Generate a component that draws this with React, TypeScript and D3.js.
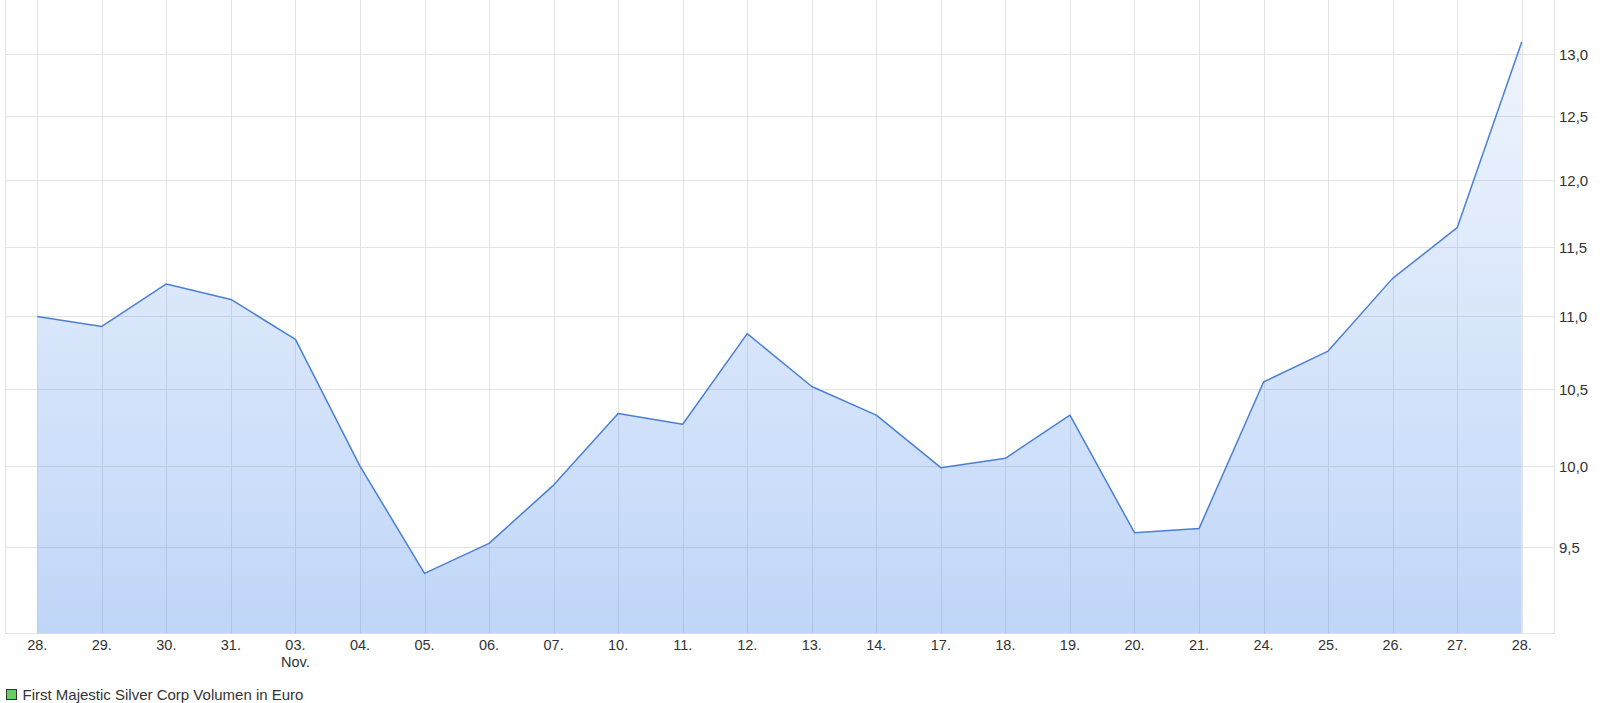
import React, { useEffect, useRef } from "react";
import * as d3 from "d3";

// day labels along the x axis (Oct 28 -> Nov 28)
const days = ["28.", "29.", "30.", "31.", "03.", "04.", "05.", "06.", "07.", "10.", "11.", "12.",
  "13.", "14.", "17.", "18.", "19.", "20.", "21.", "24.", "25.", "26.", "27.", "28."];
const monthLabels: { index: number; text: string }[] = [{ index: 4, text: "Nov." }];
const volume = [11.0, 10.93, 11.23, 11.12, 10.84, 10.0, 9.34, 9.52, 9.88, 10.34, 10.27, 10.88,
  10.52, 10.33, 9.99, 10.05, 10.33, 9.585, 9.61, 10.55, 10.76, 11.27, 11.64, 13.1];
const yTicks = [9.5, 10.0, 10.5, 11.0, 11.5, 12.0, 12.5, 13.0];
const yDomain = [8.99, 13.456];
const legendLabel = "First Majestic Silver Corp Volumen in Euro";

const App: React.FC = () => {
  const ref = useRef<SVGSVGElement | null>(null);

  useEffect(() => {
    const width = 1615;
    const height = 703;
    const left = 5;
    const right = 1554;
    const top = 0;
    const bottom = 633.3;
    const font = "'Liberation Sans', Arial, sans-serif";
    const gridColor = "#e3e3e3";

    const svg = d3.select(ref.current);
    svg.selectAll("*").remove();
    svg.attr("width", width).attr("height", height);

    const idx = days.map((_, i) => i);
    const x = d3.scalePoint<number>().domain(idx).range([left, right]).padding(0.5);
    const y = d3.scaleLog().domain(yDomain).range([bottom, top]);

    const defs = svg.append("defs");
    const grad = defs
      .append("linearGradient")
      .attr("id", "areaFill")
      .attr("x1", 0)
      .attr("y1", 0)
      .attr("x2", 0)
      .attr("y2", 1);
    grad.append("stop").attr("offset", "0%").attr("stop-color", "rgb(75,138,235)").attr("stop-opacity", 0.09);
    grad.append("stop").attr("offset", "100%").attr("stop-color", "rgb(75,138,235)").attr("stop-opacity", 0.35);

    // grid
    const grid = svg.append("g");
    grid
      .selectAll("line.h")
      .data(yTicks)
      .enter()
      .append("line")
      .attr("x1", left)
      .attr("x2", right)
      .attr("y1", (d) => Math.round(y(d)) + 0.5)
      .attr("y2", (d) => Math.round(y(d)) + 0.5)
      .attr("stroke", gridColor);
    grid
      .selectAll("line.v")
      .data(idx)
      .enter()
      .append("line")
      .attr("x1", (d) => Math.round(x(d)!) + 0.5)
      .attr("x2", (d) => Math.round(x(d)!) + 0.5)
      .attr("y1", top)
      .attr("y2", bottom)
      .attr("stroke", gridColor);
    // frame: left, right and bottom
    [left, right].forEach((px) => {
      grid.append("line")
        .attr("x1", px + 0.5).attr("x2", px + 0.5)
        .attr("y1", top).attr("y2", bottom)
        .attr("stroke", gridColor);
    });
    grid.append("line")
      .attr("x1", left).attr("x2", right + 1)
      .attr("y1", Math.round(bottom) + 0.5).attr("y2", Math.round(bottom) + 0.5)
      .attr("stroke", gridColor);

    const area = d3
      .area<number>()
      .x((_, i) => x(i)!)
      .y0(bottom)
      .y1((d) => y(d));
    const line = d3
      .line<number>()
      .x((_, i) => x(i)!)
      .y((d) => y(d));

    svg.append("path").datum(volume).attr("d", area).attr("fill", "url(#areaFill)");
    svg
      .append("path")
      .datum(volume)
      .attr("d", line)
      .attr("fill", "none")
      .attr("stroke", "#4a7fd6")
      .attr("stroke-width", 1.5)
      .attr("stroke-linejoin", "round");

    // x labels
    const xl = svg.append("g").attr("font-family", font).attr("font-size", 14.5).attr("fill", "#333");
    xl.selectAll("text.day")
      .data(idx)
      .enter()
      .append("text")
      .attr("x", (d) => x(d)!)
      .attr("y", 650)
      .attr("text-anchor", "middle")
      .text((d) => days[d]);
    xl.selectAll("text.month")
      .data(monthLabels)
      .enter()
      .append("text")
      .attr("x", (d) => x(d.index)!)
      .attr("y", 667)
      .attr("text-anchor", "middle")
      .text((d) => d.text);

    // y labels on the right
    const fmt = (v: number) => d3.format(".1f")(v).replace(".", ",");
    svg
      .append("g")
      .attr("font-family", font)
      .attr("font-size", 15)
      .attr("fill", "#333")
      .selectAll("text")
      .data(yTicks)
      .enter()
      .append("text")
      .attr("x", 1559)
      .attr("y", (d) => y(d) + 6)
      .text((d) => fmt(d));

    // legend
    const lg = svg.append("g");
    lg.append("rect")
      .attr("x", 6.5)
      .attr("y", 689.5)
      .attr("width", 10)
      .attr("height", 10)
      .attr("fill", "#5fd35f")
      .attr("stroke", "#333");
    lg.append("text")
      .attr("x", 22.5)
      .attr("y", 700)
      .attr("font-family", font)
      .attr("font-size", 15)
      .attr("fill", "#333")
      .text(legendLabel);
  }, []);

  return (
    <svg
      ref={ref}
      style={{ position: "absolute", left: 0, top: 0, display: "block" }}
    />
  );
};

export default App;
